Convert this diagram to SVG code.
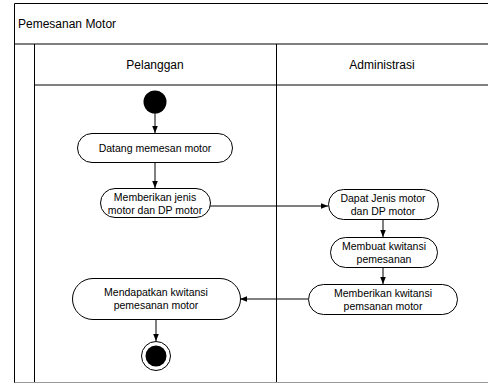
<svg xmlns="http://www.w3.org/2000/svg" width="488" height="383" viewBox="0 0 488 383">
  <defs>
    <marker id="arrow" viewBox="0 0 10 10" refX="10" refY="5" markerWidth="7" markerHeight="7" orient="auto" markerUnits="userSpaceOnUse">
      <path d="M0,1 L10,5 L0,9 z" fill="#000"/>
    </marker>
    <style>
      .frame { fill: none; stroke: #000; stroke-width: 1; }
      .act { fill: #fff; stroke: #000; stroke-width: 1; }
      .lbl { font-family: "Liberation Sans", Arial, sans-serif; font-size: 10.5px; fill: #000; text-anchor: middle; }
      .head { font-family: "Liberation Sans", Arial, sans-serif; font-size: 12px; fill: #000; }
      .edge { fill: none; stroke: #000; stroke-width: 1; marker-end: url(#arrow); }
    </style>
  </defs>
  <rect width="488" height="383" fill="#fff"/>

  <!-- pool and swimlanes -->
  <g id="pool">
    <line class="frame" x1="14.5" y1="3.5" x2="488" y2="3.5"/>
    <line class="frame" x1="14.5" y1="3.5" x2="14.5" y2="383"/>
    <line class="frame" x1="14.5" y1="44" x2="488" y2="44"/>
    <line class="frame" x1="34.5" y1="44" x2="34.5" y2="383"/>
    <line class="frame" x1="34.5" y1="85" x2="488" y2="85"/>
    <line class="frame" x1="276.5" y1="44" x2="276.5" y2="383"/>
    <line x1="14.5" y1="382.5" x2="488" y2="382.5" stroke="#999" stroke-width="1"/>
    <text class="head" x="18" y="28">Pemesanan Motor</text>
    <text class="head" x="155" y="69" text-anchor="middle">Pelanggan</text>
    <text class="head" x="382" y="69" text-anchor="middle">Administrasi</text>
  </g>

  <!-- connectors -->
  <g id="connectors">
    <line class="edge" x1="155" y1="113" x2="155" y2="133"/>
    <line class="edge" x1="155" y1="163" x2="155" y2="188"/>
    <line class="edge" x1="210" y1="206" x2="328" y2="206"/>
    <line class="edge" x1="383" y1="220" x2="383" y2="237"/>
    <line class="edge" x1="383" y1="268" x2="383" y2="284"/>
    <line class="edge" x1="308" y1="299" x2="240" y2="299"/>
    <line class="edge" x1="156" y1="320" x2="156" y2="341"/>
  </g>

  <g id="start">
    <circle cx="155" cy="102" r="11.5" fill="#000"/>
  </g>

  <g id="datang">
    <rect class="act" x="77.5" y="133.5" width="155" height="29" rx="14.5"/>
    <text class="lbl" x="155" y="152">Datang memesan motor</text>
  </g>

  <g id="memberikan-jenis">
    <rect class="act" x="100.5" y="188.5" width="110" height="29" rx="14.5"/>
    <text class="lbl" x="155" y="201">Memberikan jenis</text>
    <text class="lbl" x="155" y="214">motor dan DP motor</text>
  </g>

  <g id="dapat-jenis">
    <rect class="act" x="328.5" y="189.5" width="110" height="30" rx="15"/>
    <text class="lbl" x="383" y="202">Dapat Jenis motor</text>
    <text class="lbl" x="383" y="215">dan DP motor</text>
  </g>

  <g id="membuat-kwitansi">
    <rect class="act" x="330.5" y="237.5" width="107" height="30" rx="15"/>
    <text class="lbl" x="384" y="250">Membuat kwitansi</text>
    <text class="lbl" x="384" y="263">pemesanan</text>
  </g>

  <g id="memberikan-kwitansi">
    <rect class="act" x="308.5" y="284.5" width="149" height="30" rx="15"/>
    <text class="lbl" x="383" y="297">Memberikan kwitansi</text>
    <text class="lbl" x="383" y="310">pemsanan motor</text>
  </g>

  <g id="mendapatkan-kwitansi">
    <rect class="act" x="72.5" y="278.5" width="168" height="41" rx="20.5"/>
    <text class="lbl" x="156" y="296">Mendapatkan kwitansi</text>
    <text class="lbl" x="156" y="309">pemesanan motor</text>
  </g>

  <g id="end">
    <circle cx="156" cy="356" r="14.5" fill="#fff" stroke="#000" stroke-width="1"/>
    <circle cx="156" cy="356" r="10.5" fill="#000"/>
  </g>
</svg>
